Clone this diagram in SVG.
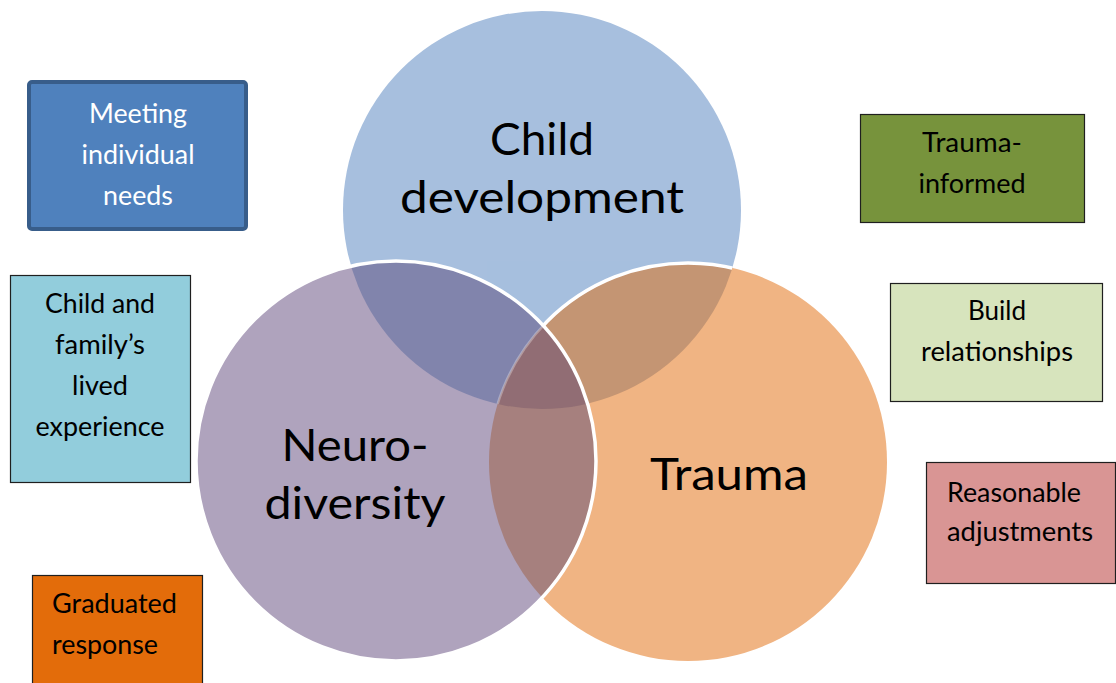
<svg xmlns="http://www.w3.org/2000/svg" width="1116" height="683" viewBox="0 0 1116 683">
  <style>
    .big { font-family: Lato, "Open Sans", "Liberation Sans", sans-serif; font-size: 45px; fill: #000; text-anchor: middle; }
    .lbl { font-family: Lato, "Open Sans", "Liberation Sans", sans-serif; font-size: 26px; fill: #000; }
    .mid { text-anchor: middle; }
    .white { fill: #fff; }
    .box { stroke: #1f1f1f; stroke-width: 1.2; }
  </style>
  <defs>
    <clipPath id="clipTop"><circle cx="542" cy="210" r="199"/></clipPath>
    <clipPath id="clipLeft"><circle cx="396" cy="461" r="200"/></clipPath>
    <clipPath id="clipRight"><circle cx="688" cy="462" r="199"/></clipPath>
  </defs>

  <rect width="1116" height="683" fill="#fff"/>

  <!-- Venn circles -->
  <g id="child-development">
    <circle cx="542" cy="210" r="199" fill="#A7BFDE"/>
    <text class="big" x="542" y="155" textLength="104" lengthAdjust="spacingAndGlyphs">Child</text>
    <text class="big" x="542" y="213" textLength="284" lengthAdjust="spacingAndGlyphs">development</text>
  </g>

  <g id="trauma">
    <circle cx="688" cy="462" r="199" fill="#F0B483"/>
    <circle cx="688" cy="462" r="199" fill="#C49573" clip-path="url(#clipTop)"/>
    <circle cx="688" cy="462" r="199" fill="none" stroke="#fff" stroke-width="3.5" clip-path="url(#clipTop)"/>
    <text class="big" x="729" y="490" textLength="158" lengthAdjust="spacingAndGlyphs">Trauma</text>
  </g>

  <g id="neurodiversity">
    <circle cx="396" cy="461" r="200" fill="#AFA3BD"/>
    <text class="big" x="355" y="461" textLength="147" lengthAdjust="spacingAndGlyphs">Neuro-</text>
    <text class="big" x="355" y="519" textLength="181" lengthAdjust="spacingAndGlyphs">diversity</text>
  </g>

  <!-- overlap regions and outlines -->
  <g id="overlaps">
    <circle cx="396" cy="461" r="200" fill="#8184AC" clip-path="url(#clipTop)"/>
    <circle cx="396" cy="461" r="200" fill="#A6807E" clip-path="url(#clipRight)"/>
    <g clip-path="url(#clipTop)">
      <circle cx="396" cy="461" r="200" fill="#916E74" clip-path="url(#clipRight)"/>
    </g>
    <g clip-path="url(#clipTop)" opacity="0.3">
      <circle cx="688" cy="462" r="199" fill="none" stroke="#fff" stroke-width="2.5" clip-path="url(#clipLeft)"/>
    </g>
    <circle cx="396" cy="461" r="200" fill="none" stroke="#fff" stroke-width="3.5"/>
  </g>

  <!-- side boxes -->
  <g id="meeting-needs">
    <rect x="29" y="82" width="217" height="147" rx="3" fill="#4F81BD" stroke="#385D8A" stroke-width="4"/>
    <text class="lbl mid white" x="138" y="123" textLength="98" lengthAdjust="spacingAndGlyphs">Meeting</text>
    <text class="lbl mid white" x="138" y="164" textLength="113" lengthAdjust="spacingAndGlyphs">individual</text>
    <text class="lbl mid white" x="138" y="205" textLength="70" lengthAdjust="spacingAndGlyphs">needs</text>
  </g>

  <g id="lived-experience">
    <rect class="box" x="10.5" y="275.5" width="180" height="207" fill="#92CDDC"/>
    <text class="lbl mid" x="100" y="313" textLength="110" lengthAdjust="spacingAndGlyphs">Child and</text>
    <text class="lbl mid" x="100" y="354" textLength="90" lengthAdjust="spacingAndGlyphs">family’s</text>
    <text class="lbl mid" x="100" y="395" textLength="56" lengthAdjust="spacingAndGlyphs">lived</text>
    <text class="lbl mid" x="100" y="436" textLength="129" lengthAdjust="spacingAndGlyphs">experience</text>
  </g>

  <g id="graduated-response">
    <rect class="box" x="32.5" y="575.5" width="170" height="120" fill="#E36C0A"/>
    <text class="lbl" x="52" y="613" textLength="125" lengthAdjust="spacingAndGlyphs">Graduated</text>
    <text class="lbl" x="52" y="654" textLength="106" lengthAdjust="spacingAndGlyphs">response</text>
  </g>

  <g id="trauma-informed">
    <rect class="box" x="860.5" y="114.5" width="224" height="108" fill="#77933C"/>
    <text class="lbl mid" x="972" y="152" textLength="100" lengthAdjust="spacingAndGlyphs">Trauma-</text>
    <text class="lbl mid" x="972" y="193" textLength="107" lengthAdjust="spacingAndGlyphs">informed</text>
  </g>

  <g id="build-relationships">
    <rect class="box" x="890.5" y="283.5" width="212" height="118" fill="#D7E4BD"/>
    <text class="lbl mid" x="997" y="320" textLength="58" lengthAdjust="spacingAndGlyphs">Build</text>
    <text class="lbl mid" x="997" y="361" textLength="152" lengthAdjust="spacingAndGlyphs">relationships</text>
  </g>

  <g id="reasonable-adjustments">
    <rect class="box" x="926.5" y="462.5" width="189" height="121" fill="#D99594"/>
    <text class="lbl" x="947" y="502" textLength="134" lengthAdjust="spacingAndGlyphs">Reasonable</text>
    <text class="lbl" x="947" y="541" textLength="146" lengthAdjust="spacingAndGlyphs">adjustments</text>
  </g>
</svg>
